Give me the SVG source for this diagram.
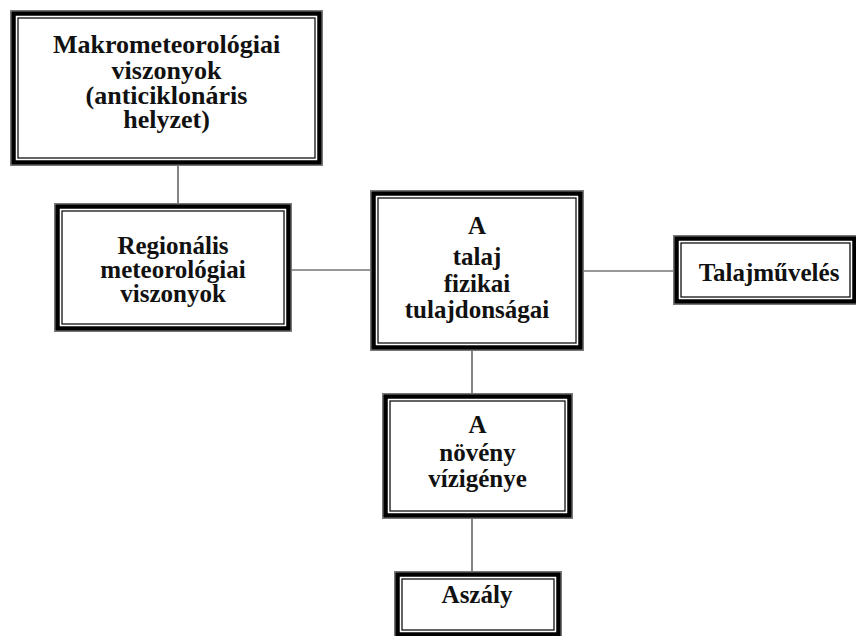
<svg xmlns="http://www.w3.org/2000/svg" width="856" height="636" viewBox="0 0 856 636">
<style>
.o{fill:none;stroke:#777;stroke-width:1}
.b{fill:none;stroke:#000;stroke-width:4.5}
.i{fill:#fff;stroke:#111;stroke-width:1.3}
.t{font-family:"Liberation Serif","Times New Roman",serif;font-weight:bold;font-size:25px;fill:#111;text-anchor:middle}
.big{font-size:26px}
.c{stroke:#333;stroke-width:1.2;fill:none}
</style>
<rect width="856" height="636" fill="#fff"/>
<g id="connectors">
<line class="c" x1="178" y1="166" x2="178" y2="203"/>
<line class="c" x1="292" y1="270" x2="370" y2="270"/>
<line class="c" x1="584" y1="271" x2="673" y2="271"/>
<line class="c" x1="472" y1="351" x2="472" y2="393"/>
<line class="c" x1="472" y1="519" x2="472" y2="571"/>
</g>
<g id="makro">
<rect class="o" x="10.5" y="10.5" width="312" height="155"/>
<rect class="b" x="13.5" y="13.5" width="306" height="149"/>
<rect class="i" x="18" y="18" width="297" height="140"/>
<text class="t big" x="166.5" y="53">Makrometeorológiai</text>
<text class="t big" x="166.5" y="79">viszonyok</text>
<text class="t big" x="166.5" y="104">(anticiklonáris</text>
<text class="t big" x="166.5" y="128">helyzet)</text>
</g>
<g id="regionalis">
<rect class="o" x="54.5" y="203.5" width="237" height="128"/>
<rect class="b" x="57.5" y="206.5" width="231" height="122"/>
<rect class="i" x="62" y="211" width="222" height="113"/>
<text class="t" x="173" y="254">Regionális</text>
<text class="t" x="173" y="278">meteorológiai</text>
<text class="t" x="173" y="302">viszonyok</text>
</g>
<g id="talaj">
<rect class="o" x="370.5" y="190.5" width="213" height="160"/>
<rect class="b" x="373.5" y="193.5" width="207" height="154"/>
<rect class="i" x="378" y="198" width="198" height="145"/>
<text class="t" x="477" y="234">A</text>
<text class="t" x="477" y="265">talaj</text>
<text class="t" x="477" y="292">fizikai</text>
<text class="t" x="477" y="318">tulajdonságai</text>
</g>
<g id="talajmuveles">
<rect class="o" x="673.5" y="235.5" width="184" height="69"/>
<rect class="b" x="676.5" y="238.5" width="178" height="63"/>
<rect class="i" x="681" y="243" width="169" height="54"/>
<text class="t" x="769" y="281">Talajművelés</text>
</g>
<g id="noveny">
<rect class="o" x="382.5" y="393.5" width="190" height="125"/>
<rect class="b" x="385.5" y="396.5" width="184" height="119"/>
<rect class="i" x="390" y="401" width="175" height="110"/>
<text class="t" x="477.5" y="433">A</text>
<text class="t" x="477.5" y="461">növény</text>
<text class="t" x="477.5" y="487">vízigénye</text>
</g>
<g id="aszaly">
<rect class="o" x="394.5" y="571.5" width="167" height="66"/>
<rect class="b" x="397.5" y="574.5" width="161" height="60"/>
<rect class="i" x="402" y="579" width="152" height="51"/>
<text class="t" x="477" y="603">Aszály</text>
</g>
</svg>
